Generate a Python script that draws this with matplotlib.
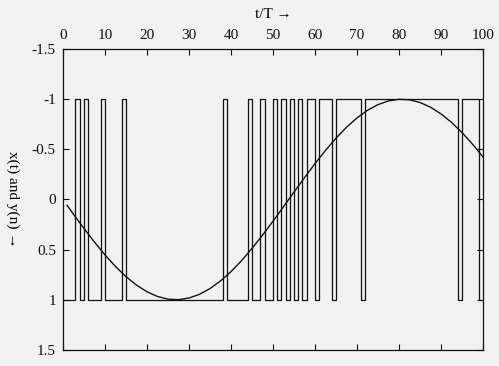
import numpy as np
import matplotlib
matplotlib.use("Agg")
import matplotlib.pyplot as plt

t_vals = [1, 2.5, 5, 7.5, 10, 12.5, 15, 17.5, 20, 22.5, 25, 27.5, 30, 32.5, 35,
          37.5, 40, 42.5, 45, 47.5, 50, 52.5, 55, 57.5, 60, 62.5, 65, 67.5, 70,
          72.5, 75, 77.5, 80, 82.5, 85, 87.5, 90, 92.5, 95, 97.5, 100]
x_vals = [0.058, 0.146, 0.288, 0.424, 0.552, 0.667, 0.769, 0.853, 0.920, 0.967,
          0.994, 0.999, 0.983, 0.946, 0.889, 0.813, 0.720, 0.611, 0.489, 0.357,
          0.217, 0.073, -0.073, -0.217, -0.357, -0.489, -0.611, -0.720, -0.813,
          -0.889, -0.946, -0.983, -0.999, -0.994, -0.967, -0.920, -0.853, -0.769,
          -0.667, -0.552, -0.424]

# one-bit sequence y(n), n = 0..99
y_vals = [1, 1, 1, -1, 1, -1, 1, 1, 1, -1,
          1, 1, 1, 1, -1, 1, 1, 1, 1, 1,
          1, 1, 1, 1, 1, 1, 1, 1, 1, 1,
          1, 1, 1, 1, 1, 1, 1, 1, -1, 1,
          1, 1, 1, 1, -1, 1, 1, -1, 1, 1,
          -1, 1, -1, 1, -1, 1, -1, 1, -1, -1,
          1, -1, -1, -1, 1, -1, -1, -1, -1, -1,
          -1, 1, -1, -1, -1, -1, -1, -1, -1, -1,
          -1, -1, -1, -1, -1, -1, -1, -1, -1, -1,
          -1, -1, -1, -1, 1, -1, -1, -1, -1, 1]

x_ticks = [0, 10, 20, 30, 40, 50, 60, 70, 80, 90, 100]
y_ticks = [-1.5, -1, -0.5, 0, 0.5, 1, 1.5]
y_tick_labels = ["-1.5", "-1", "-0.5", "0", "0.5", "1", "1.5"]

plt.rcParams['font.family'] = ['Liberation Serif', 'DejaVu Serif']

bg = '#f1f1f1'
fig = plt.figure(figsize=(4.99, 3.66), dpi=100, facecolor=bg)
ax = fig.add_axes([0.126, 0.044, 0.842, 0.822], facecolor=bg)

n_edges = np.arange(len(y_vals) + 1)
ax.step(n_edges, y_vals + [y_vals[-1]], where='post', color='#111111', lw=0.9)
ax.plot(t_vals, x_vals, color='#111111', lw=1.0)

ax.set_xlim(0, 100)
ax.set_ylim(1.5, -1.5)
ax.set_xticks(x_ticks)
ax.set_xticklabels([str(v) for v in x_ticks])
ax.set_yticks(y_ticks)
ax.set_yticklabels(y_tick_labels)
ax.tick_params(direction='in', length=4, width=0.8, top=True, right=True,
               labeltop=True, labelbottom=False, labelsize=11, pad=5,
               colors='#111111')
for s in ax.spines.values():
    s.set_linewidth(0.9)
    s.set_color('#111111')

ax.xaxis.set_label_position('top')
ax.set_xlabel('t/T \u2192', fontsize=11, labelpad=8)
ax.set_ylabel('x(t) and y(n) \u2192', fontsize=11, rotation=270, labelpad=14,
              va='center')

fig.savefig('out.png', dpi=100, facecolor=bg)
